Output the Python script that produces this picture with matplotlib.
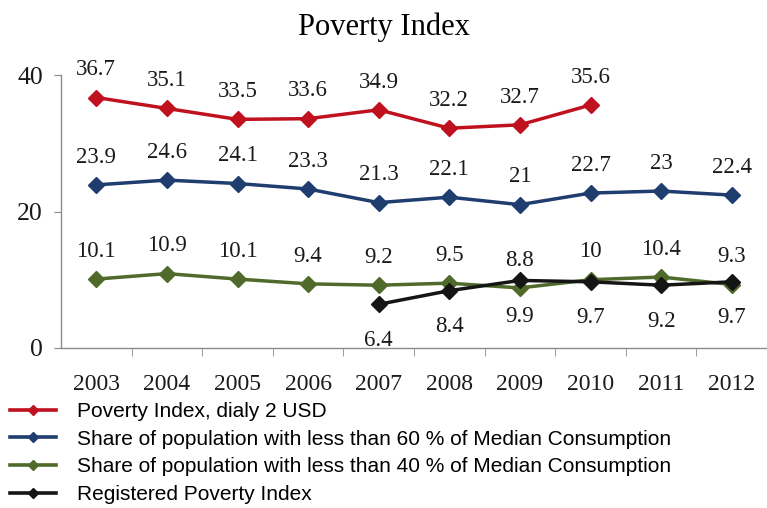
import matplotlib
matplotlib.use('Agg')
import matplotlib.pyplot as plt
from matplotlib.lines import Line2D
import numpy as np

# Poverty indicators, 2003-2012
years = ['2003', '2004', '2005', '2006', '2007', '2008', '2009', '2010', '2011', '2012']
poverty_2usd = [36.7, 35.1, 33.5, 33.6, 34.9, 32.2, 32.7, 35.6]
share_60 = [23.9, 24.6, 24.1, 23.3, 21.3, 22.1, 21, 22.7, 23, 22.4]
share_40 = [10.1, 10.9, 10.1, 9.4, 9.2, 9.5, 8.8, 10, 10.4, 9.3]
registered_years = ['2007', '2008', '2009', '2010', '2011', '2012']
registered = [6.4, 8.4, 9.9, 9.7, 9.2, 9.7]

labels = ['Poverty Index, dialy 2 USD',
          'Share of population with less than 60 % of Median Consumption',
          'Share of population with less than 40 % of Median Consumption',
          'Registered Poverty Index']
colors = ['#C0111F', '#1F3D6E', '#4F6A2A', '#151515']

serif = ['Liberation Serif', 'DejaVu Serif']
sans = ['Liberation Sans Narrow', 'Liberation Sans', 'DejaVu Sans']

fig = plt.figure(figsize=(7.67, 5.08), dpi=100)
ax = fig.add_axes([61 / 767, 1 - 348 / 508, 1 - 61 / 767, (348 - 75) / 508])

x_all = np.arange(len(years))
x_reg = np.array([years.index(y) for y in registered_years])

series = [
    (x_all[:len(poverty_2usd)], poverty_2usd, 'above'),
    (x_all, share_60, 'above'),
    (x_all, share_40, 'above'),
    (x_reg, registered, 'below'),
]

for (xs, ys, pos), color in zip(series, colors):
    ax.plot(xs, ys, color=color, lw=2.5, marker='D', markersize=8.5,
            markeredgecolor=color, zorder=3, clip_on=False)
    for xi, yi in zip(xs, ys):
        dy = 20 if pos == 'above' else -26
        ax.annotate(f'{yi:g}', (xi, yi), xytext=(0, dy), textcoords='offset points',
                    ha='center', va='center', fontsize=16.5, family=serif,
                    color='#1a1a1a')

ax.set_xlim(-0.5, len(years) - 0.5)
ax.set_ylim(0, 40)
ax.set_yticks([0, 20, 40])
ax.set_xticks(x_all)
ax.set_xticklabels(years)
ax.set_xticks(np.arange(0.5, len(years) - 0.5), minor=True)

for side in ['top', 'right']:
    ax.spines[side].set_visible(False)
for side in ['left', 'bottom']:
    ax.spines[side].set_color('#8c8c8c')
    ax.spines[side].set_linewidth(1.0)

ax.tick_params(axis='x', which='major', length=0, pad=19)
ax.tick_params(axis='x', which='minor', length=6, color='#8c8c8c', direction='out')
ax.tick_params(axis='y', length=5, color='#8c8c8c', pad=8)
for lbl in ax.get_xticklabels():
    lbl.set_family(serif)
    lbl.set_fontsize(17)
    lbl.set_color('#1a1a1a')
for lbl in ax.get_yticklabels():
    lbl.set_family(serif)
    lbl.set_fontsize(18.5)
    lbl.set_color('#1a1a1a')

fig.text(0.5, 1 - 27 / 508, 'Poverty Index', ha='center', va='center',
         fontsize=22, family=serif)

handles = [Line2D([], [], color=c, lw=2.6, marker='D', markersize=5,
                  markeredgecolor=c) for c in colors]
fig.legend(handles, labels, loc='upper left', bbox_to_anchor=(10 / 767, 1 - 402 / 508),
           frameon=False, prop={'family': sans, 'size': 15}, handlelength=2.2,
           handletextpad=1.0, labelspacing=0.42, borderpad=0, borderaxespad=0)

fig.savefig('out.png', dpi=100)
